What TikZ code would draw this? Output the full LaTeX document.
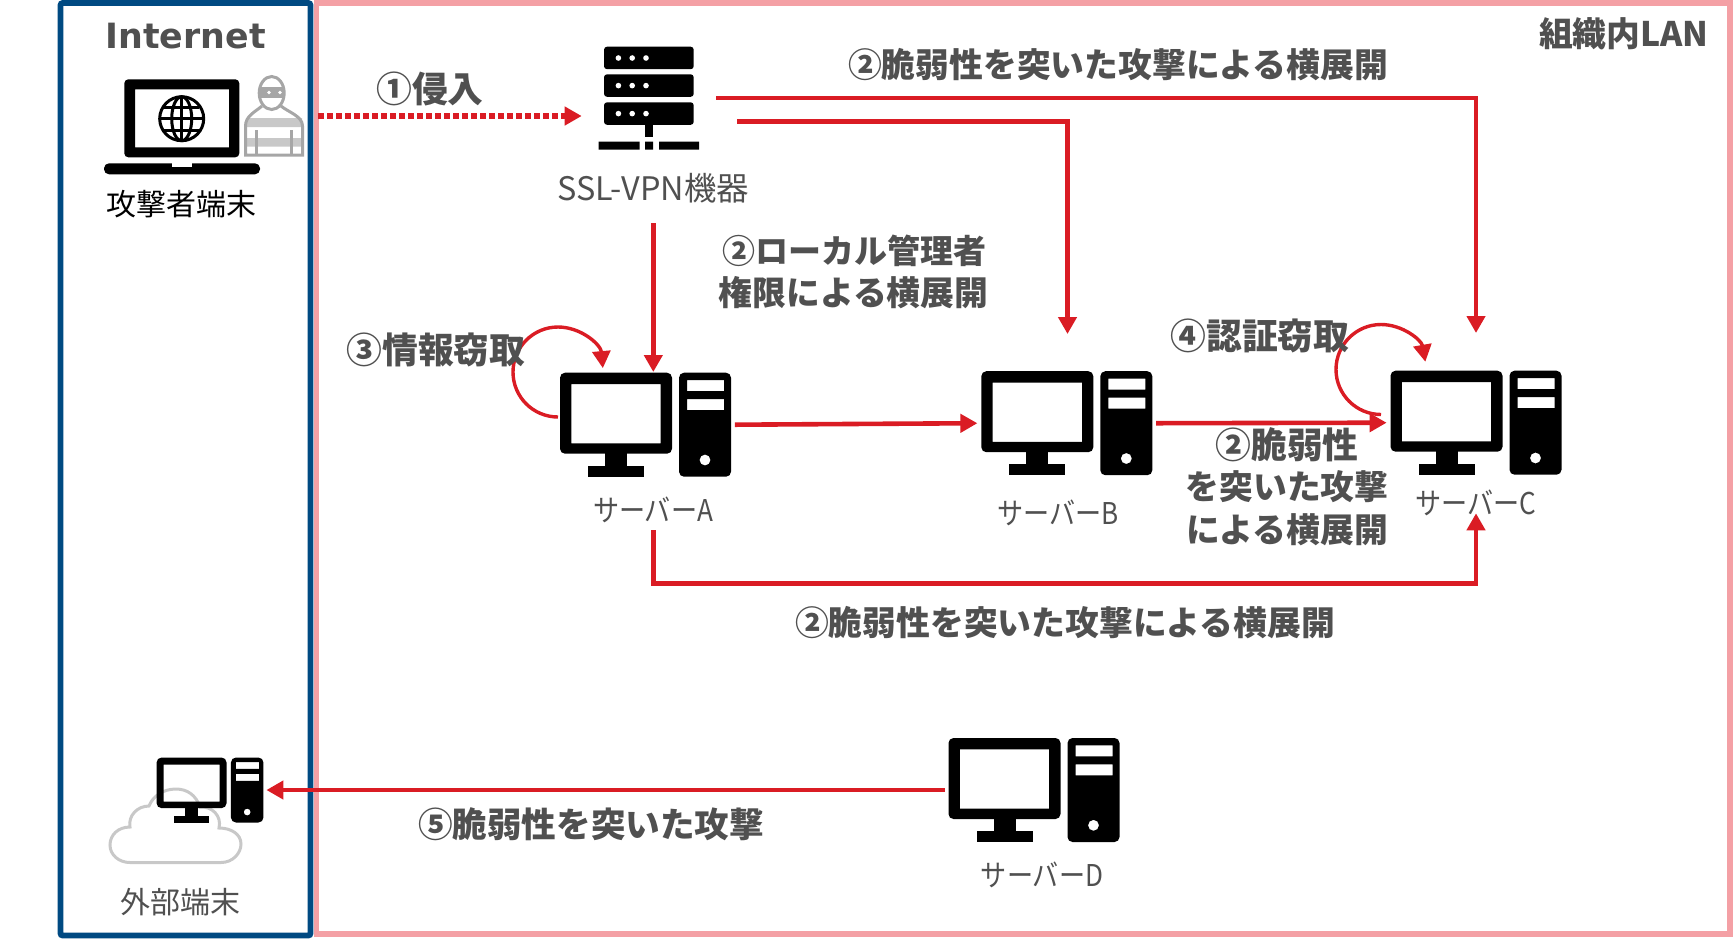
\documentclass[tikz,border=0pt]{standalone}
\usepackage{fontspec}
\setmainfont{Noto Sans CJK JP}
\newfontfamily\latinbold{DejaVu Sans Bold}
\newfontfamily\narrowfont[FakeStretch=0.87]{Noto Sans CJK JP}
\usetikzlibrary{arrows.meta, positioning}

\definecolor{attackred}{HTML}{DA1C24}
\definecolor{lanpink}{HTML}{F4A0A5}
\definecolor{netblue}{HTML}{004A82}
\definecolor{labelgray}{HTML}{505050}
\definecolor{thiefgray}{HTML}{A6A6A6}
\definecolor{stripegray}{HTML}{C8C8C8}

\tikzset{
    boldlabel/.style={inner sep=0pt, text=labelgray, font=\fontsize{16.9}{19}\selectfont\bfseries},
    biglabel/.style={inner sep=0pt, text=labelgray, font=\fontsize{17.9}{20}\selectfont\bfseries},
    iconlabel/.style={inner sep=0pt, text=labelgray, font=\fontsize{15}{18}\selectfont},
    serverlabel/.style={inner sep=0pt, text=labelgray, font=\narrowfont\fontsize{15}{18}\selectfont},
    iconbox/.style={inner sep=0pt, minimum width=89pt, minimum height=52pt},
    attack/.style={draw=attackred, line width=2.3pt, -{Triangle[length=8.5pt,width=9pt]}},
    steal/.style={draw=attackred, line width=1.7pt, -{Triangle[length=8.5pt,width=9pt]}},
    pcicon/.pic={
        \begin{scope}[shift={(-85.5,-52)}]
            \fill[even odd rule, rounded corners=2.5pt] (0,0) rectangle (112,81) [sharp corners] (11.3,11.3) rectangle (100.7,70.6);
            \fill (45,80) rectangle (67,94);
            \fill (28,93) rectangle (84,104);
            \fill[even odd rule, rounded corners=2.5pt] (119,0) rectangle (171,104) [sharp corners]
                (127,7.3) rectangle (164,18.3) (127,26.3) rectangle (164,37.3) (145,87.3) circle (5.5);
        \end{scope}
    }
}

\begin{document}
\begin{tikzpicture}[x=0.5pt, y=-0.5pt]
    \useasboundingbox (0,0) rectangle (1733,939);

    % areas
    \draw[lanpink, line width=2.9pt] (316.5,3) rectangle (1730,933.7);
    \draw[netblue, line width=2.8pt, rounded corners=1pt] (60.5,3) rectangle (310.5,935.5);

    \node[inner sep=0pt, text=labelgray, font=\latinbold\fontsize{17.4}{20}\selectfont] (internet) at (185.6,36) {Internet};
    \node[boldlabel, anchor=east] (lan) at (1709,34) {組織内LAN};

    % attacker
    \fill[even odd rule, rounded corners=2pt] (124.3,79.3) rectangle (239.3,157.3) [sharp corners] (135,89.3) rectangle (229,147.3);
    \fill[rounded corners=2.5pt] (104,163.3) -- (260,163.3) -- (260,174.3) -- (104,174.3) -- cycle;
    \fill[white] (171.7,162) rectangle (191.7,166.7);
    \draw[line width=1.5pt] (181.7,118.7) circle (22);
    \draw[line width=1.5pt] (181.7,118.7) ellipse (10 and 22);
    \draw[line width=1.5pt] (159.7,118.7) -- (203.7,118.7) (181.7,96.7) -- (181.7,140.7) (164,107) -- (199.4,107) (164,130.4) -- (199.4,130.4);

    \fill[stripegray] (246,118) rectangle (302,127) (246,138) rectangle (302,146.7);
    \draw[thiefgray, line width=1.5pt] (262,106) .. controls (255,112) and (245.5,116) .. (245.5,126) -- (245.5,155) -- (302.5,155) -- (302.5,126) .. controls (302.5,116) and (288,112) .. (281,106);
    \draw[thiefgray, line width=1.5pt] (271.7,93) ellipse (12.5 and 16.5);
    \fill[thiefgray] (259.5,86.5) rectangle (284,98);
    \fill[white] (269,92.5) circle (1.8) (280,92.5) circle (1.8);
    \draw[thiefgray, line width=1.5pt] (256.7,130) -- (256.7,155) (291,130) -- (291,155);
    \node[inner sep=0pt, font=\fontsize{15}{18}\selectfont] (attackerpc) at (181.5,204) {攻撃者端末};

    % ssl-vpn
    \node[inner sep=0pt, minimum width=95pt, minimum height=52pt] (vpn) at (649,98) {};
    \foreach \rowy in {46.7,74.3,102.3} {
        \fill[rounded corners=1.5pt] (604,\rowy) rectangle (693.7,\rowy+22.5);
        \fill[white] (618.4,\rowy+11.3) circle (2.8) (632.2,\rowy+11.3) circle (2.8) (646,\rowy+11.3) circle (2.8);
    }
    \fill (645,124) rectangle (653,137);
    \fill (598.7,141.7) rectangle (639.5,149.7) (645,141.7) rectangle (653,149.7) (659,141.7) rectangle (699,149.7);
    \node[iconlabel, font=\fontsize{16.2}{18}\selectfont] (vpnlabel) at (653,188) {SSL-VPN機器};

    % servers
    \node[iconbox] (serverA) at (645.5,424.7) {};
    \node[iconbox] (serverB) at (1066.8,423.2) {};
    \node[iconbox] (serverC) at (1476,422.7) {};
    \node[iconbox] (serverD) at (1034,790) {};
    \node[inner sep=0pt, minimum width=56pt, minimum height=32pt] (outside) at (210,790) {};
    \pic at (serverA) {pcicon};
    \pic at (serverB) {pcicon};
    \pic at (serverC) {pcicon};
    \pic at (serverD) {pcicon};

    % cloud behind the small pc
    \draw[stripegray, line width=1.5pt] (130,862.5) -- (221,862.5)
        .. controls (233,862.5) and (241,853) .. (241,844)
        .. controls (241,834) and (231,828) .. (219,828)
        .. controls (222,816) and (212,806) .. (200,807)
        .. controls (196,795) and (187,789) .. (176,789)
        .. controls (163,789) and (153,796) .. (149,806)
        .. controls (137,806) and (128,816) .. (130,827)
        .. controls (118,827) and (110,835) .. (110,845)
        .. controls (110,855) and (119,862.5) .. (130,862.5) -- cycle;
    \pic[scale=0.625] at (outside) {pcicon};

    \node[serverlabel] (labelA) at (653,510) {サーバーA};
    \node[serverlabel] (labelB) at (1058,513) {サーバーB};
    \node[serverlabel] (labelC) at (1476,503) {サーバーC};
    \node[serverlabel] (labelD) at (1042,875) {サーバーD};
    \node[iconlabel] (labelout) at (180,902) {外部端末};

    % connector ends
    \coordinate (attackerout) at (318,116);
    \coordinate (vpnin) at (581.7,116);
    \coordinate (vpnC) at (716,98);
    \coordinate (vpnB) at (737,121.5);
    \coordinate (vpnA) at (653.3,223);
    \coordinate (topA) at (653.3,372);
    \coordinate (topB) at (1067.5,334);
    \coordinate (topC) at (1476,333);
    \coordinate (belowA) at (653.3,530);
    \coordinate (belowC) at (1476,513.3);
    \coordinate (loopA) at (558,417);
    \coordinate (loopC) at (1381,414.5);

    \draw[attack, line width=2.8pt, dash pattern=on 2.8pt off 1.7pt] (attackerout) -- (vpnin);
    \draw[attack] (vpnC) -| (topC);
    \draw[attack] (vpnB) -| (topB);
    \draw[attack] (vpnA) -- (topA);
    \draw[attack] (serverA.east) -- (serverB.west);
    \draw[attack] (serverB.east) -- (serverC.west);
    \draw[attack] (belowA) |- (1476,583.3) -- (belowC);
    \draw[attack] (serverD.west) -- (outside.east);
    \draw[steal] (loopA) arc[start angle=90, end angle=355, radius=45];
    \draw[steal] (loopC) arc[start angle=90, end angle=350, radius=45];

    % labels
    \node[biglabel] (intrude) at (430,88.5) {①侵入};
    \node[boldlabel] (moveTop) at (1118,65) {②脆弱性を突いた攻撃による横展開};
    \node[boldlabel, font=\fontsize{16.5}{19}\selectfont\bfseries] (moveLocal1) at (854,251) {②ローカル管理者};
    \node[boldlabel] (moveLocal2) at (853.5,293) {権限による横展開};
    \node[biglabel] (stealinfo) at (436,349.5) {③情報窃取};
    \node[biglabel] (stealauth) at (1260,335.5) {④認証窃取};
    \node[biglabel] (moveMid1) at (1287,444.5) {②脆弱性};
    \node[boldlabel] (moveMid2) at (1287,487) {を突いた攻撃};
    \node[boldlabel] (moveMid3) at (1287,530) {による横展開};
    \node[boldlabel] (moveLow) at (1065,623) {②脆弱性を突いた攻撃による横展開};
    \node[boldlabel, font=\fontsize{17.3}{19}\selectfont\bfseries] (exploit) at (591,824.5) {⑤脆弱性を突いた攻撃};
\end{tikzpicture}
\end{document}
